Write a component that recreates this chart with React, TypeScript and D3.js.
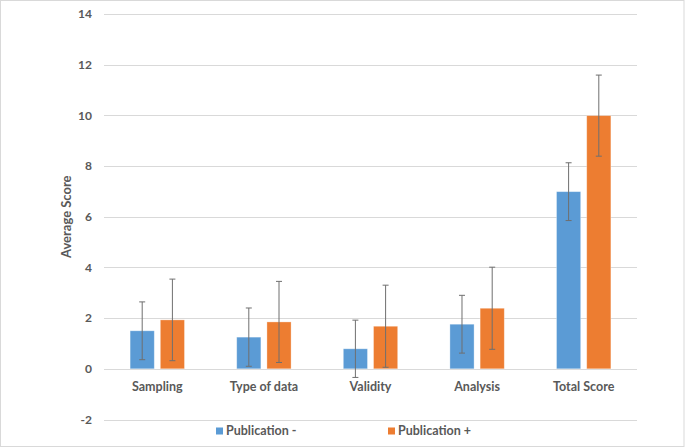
import React from "react";
import * as d3 from "d3";

const categories = ["Sampling", "Type of data", "Validity", "Analysis", "Total Score"];
const seriesNames = ["Publication -", "Publication +"];
const pubMinus = [1.5, 1.25, 0.79, 1.76, 6.99];
const pubMinusErr = [1.14, 1.15, 1.13, 1.14, 1.14];
const pubPlus = [1.93, 1.85, 1.68, 2.39, 9.99];
const pubPlusErr = [1.61, 1.6, 1.62, 1.62, 1.6];
const yTicks = [-2, 0, 2, 4, 6, 8, 10, 12, 14];
const colors = ["#5B9BD5", "#ED7D31"];

const W = 685;
const H = 448;
const left = 104;
const right = 637;
const font = "Lato, 'Open Sans', sans-serif";
const textColor = "#595959";

export default function App() {
  const y = d3.scaleLinear().domain([-2, 14]).range([419.5, 14]);
  const x0 = d3.scaleBand().domain(categories).range([left, right]).paddingInner(0.49).paddingOuter(0.245);
  const series = [
    { name: seriesNames[0], vals: pubMinus, errs: pubMinusErr, color: colors[0] },
    { name: seriesNames[1], vals: pubPlus, errs: pubPlusErr, color: colors[1] },
  ];
  const x1 = d3.scaleBand().domain(seriesNames).range([0, x0.bandwidth()]).paddingInner(0.2);
  const bw = x1.bandwidth();

  return (
    <svg width={W} height={H} style={{ position: "absolute", left: 0, top: 0, background: "#fff" }}>
      <rect x={0.5} y={0.5} width={W - 1.5} height={H - 2} fill="#fff" stroke="#d9d9d9" />
      {yTicks.map((t) => (
        <g key={t}>
          <line x1={left} x2={right} y1={Math.round(y(t)) + 0.5} y2={Math.round(y(t)) + 0.5} stroke="#d9d9d9" strokeWidth={1} />
          <text x={92} y={y(t)} dy="0.35em" textAnchor="end" fontFamily={font} fontWeight="bold" fontSize={12} fill={textColor}>
            {t}
          </text>
        </g>
      ))}
      {series.map((s) =>
        categories.map((c, i) => {
          const xb = (x0(c) as number) + (x1(s.name) as number);
          const yv = y(s.vals[i]);
          const y0 = y(0);
          return (
            <rect key={s.name + c} x={xb} y={Math.min(yv, y0)} width={bw} height={Math.abs(y0 - yv)} fill={s.color} stroke="#ffffff" strokeOpacity={0.4} strokeWidth={0.8} />
          );
        })
      )}
      {series.map((s) =>
        categories.map((c, i) => {
          const cx = (x0(c) as number) + (x1(s.name) as number) + bw / 2;
          const yt = y(s.vals[i] + s.errs[i]);
          const yb = y(s.vals[i] - s.errs[i]);
          return (
            <g key={"e" + s.name + c} stroke="#6f6f6f" strokeWidth={1}>
              <line x1={cx} x2={cx} y1={yt} y2={yb} />
              <line x1={cx - 3} x2={cx + 3} y1={yt} y2={yt} />
              <line x1={cx - 3} x2={cx + 3} y1={yb} y2={yb} />
            </g>
          );
        })
      )}
      {categories.map((c) => (
        <text key={"l" + c} x={(x0(c) as number) + x0.bandwidth() / 2} y={391} textAnchor="middle" fontFamily={font} fontWeight="bold" fontSize={12.5} fill={textColor}>
          {c}
        </text>
      ))}
      <text transform={`translate(71,${y(6)}) rotate(-90)`} textAnchor="middle" fontFamily={font} fontWeight="bold" fontSize={13} fill={textColor}>
        Average Score
      </text>
      {series.map((s, i) => {
        const lx = i === 0 ? 216 : 388;
        return (
          <g key={"lg" + s.name}>
            <rect x={lx} y={427.5} width={7} height={7} fill={s.color} />
            <text x={lx + 10} y={435} fontFamily={font} fontWeight="bold" fontSize={12.5} fill={textColor}>
              {s.name}
            </text>
          </g>
        );
      })}
    </svg>
  );
}
